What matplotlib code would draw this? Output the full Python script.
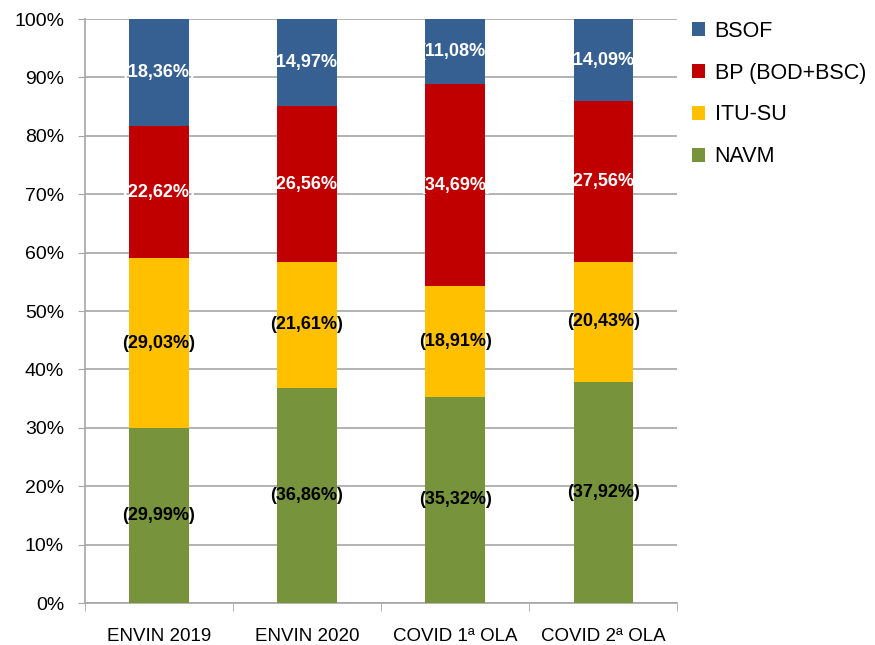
import numpy as np
import matplotlib.pyplot as plt
from matplotlib.ticker import FixedLocator, PercentFormatter

plt.rcParams['font.family'] = ['Liberation Sans', 'DejaVu Sans']

categories = ['ENVIN 2019', 'ENVIN 2020', 'COVID 1ª OLA', 'COVID 2ª OLA']
navm = [29.99, 36.86, 35.32, 37.92]
itu_su = [29.03, 21.61, 18.91, 20.43]
bp = [22.62, 26.56, 34.69, 27.56]
bsof = [18.36, 14.97, 11.08, 14.09]

series = [('NAVM', navm, '#77933C', 'black'),
          ('ITU-SU', itu_su, '#FFC000', 'black'),
          ('BP (BOD+BSC)', bp, '#C00000', 'white'),
          ('BSOF', bsof, '#376092', 'white')]

fig = plt.figure(figsize=(8.75, 6.45), dpi=100)
ax = fig.add_axes([0.097, 0.065, 0.677, 0.9055])

x = np.arange(len(categories))
bottom = np.zeros(len(categories))
handles = []
for name, vals, col, tcol in series:
    vals = np.array(vals)
    b = ax.bar(x, vals, 0.4, bottom=bottom, color=col, label=name, zorder=3)
    handles.append(b)
    for xi, v, b0 in zip(x, vals, bottom):
        ax.text(xi, b0 + v / 2, '(%s%%)' % ('%.2f' % v).replace('.', ','),
                ha='center', va='center', color=tcol, fontsize=13,
                fontweight='bold', zorder=4)
    bottom += vals

ax.set_xlim(-0.5, len(categories) - 0.5)
ax.set_ylim(0, 100)
ax.yaxis.set_major_locator(FixedLocator(np.arange(0, 101, 10)))
ax.yaxis.set_major_formatter(PercentFormatter(decimals=0))
ax.grid(axis='y', color='#A6A6A6', linewidth=1.2, zorder=0)

ax.set_xticks(x)
ax.set_xticklabels(categories, fontsize=13.5)
ax.xaxis.set_minor_locator(FixedLocator(np.arange(-0.5, len(categories), 1)))
ax.tick_params(axis='x', which='major', length=0, pad=18)
ax.tick_params(axis='x', which='minor', length=6, color='#A6A6A6')
ax.tick_params(axis='y', length=5, color='#A6A6A6', labelsize=14, pad=10)

for s in ['top', 'right']:
    ax.spines[s].set_visible(False)
for s in ['left', 'bottom']:
    ax.spines[s].set_color('#A6A6A6')
    ax.spines[s].set_linewidth(1.2)

fig.legend(handles[::-1], [h.get_label() for h in handles[::-1]],
           loc='upper left', bbox_to_anchor=(0.791, 0.968), frameon=False,
           borderpad=0, borderaxespad=0,
           fontsize=15.5, handlelength=0.6, handleheight=0.6,
           handletextpad=0.45, labelspacing=0.97)

fig.savefig('out.png')
